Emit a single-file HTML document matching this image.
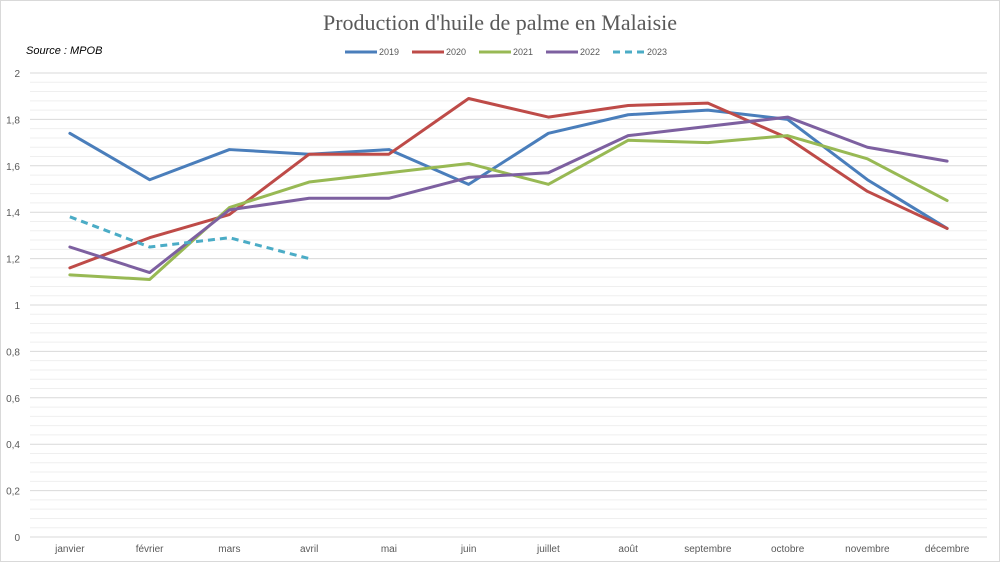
<!DOCTYPE html>
<html><head><meta charset="utf-8"><style>
body{margin:0;width:1000px;height:562px;background:#fff;overflow:hidden;font-family:"Liberation Sans",sans-serif}
</style></head><body>
<svg width="1000" height="562">
<rect x="0.5" y="0.5" width="999" height="561" fill="#fff" stroke="#d9d9d9"/>
<text x="500" y="30" text-anchor="middle" font-family="Liberation Serif,serif" font-size="22" fill="#595959">Production d'huile de palme en Malaisie</text>
<text x="26" y="54" font-size="11" font-style="italic" fill="#000">Source : MPOB</text>
<g id="grid"></g><g id="yt"></g><g id="xt"></g><g id="lines"></g><g id="legend"></g>
</svg>
<script>
const months=["janvier","février","mars","avril","mai","juin","juillet","août","septembre","octobre","novembre","décembre"];
const yTicks=["0","0,2","0,4","0,6","0,8","1","1,2","1,4","1,6","1,8","2"];
const s2019=[1.74,1.54,1.67,1.65,1.67,1.52,1.74,1.82,1.84,1.80,1.54,1.33];
const s2020=[1.16,1.29,1.39,1.65,1.65,1.89,1.81,1.86,1.87,1.72,1.49,1.33];
const s2021=[1.13,1.11,1.42,1.53,1.57,1.61,1.52,1.71,1.70,1.73,1.63,1.45];
const s2022=[1.25,1.14,1.41,1.46,1.46,1.55,1.57,1.73,1.77,1.81,1.68,1.62];
const s2023=[1.38,1.25,1.29,1.20];
const NS="http://www.w3.org/2000/svg";
const X0=30,X1=987,Y0=537,Y1=73;
const xs=i=>X0+(X1-X0)/months.length*(i+0.5);
const ys=v=>Y0-(Y0-Y1)*v/2;
function mk(t,a,p){const e=document.createElementNS(NS,t);for(const k in a)e.setAttribute(k,a[k]);p.appendChild(e);return e;}
const grid=document.getElementById('grid');
for(let k=0;k<=50;k++){const v=k*0.04;const major=k%5==0;
 const l=mk('line',{x1:X0,x2:X1,y1:ys(v),y2:ys(v),stroke:major?'#d9d9d9':'#efefef','stroke-width':1},grid);
 
 }
const yt=document.getElementById('yt');
yTicks.forEach((t,i)=>{const e=mk('text',{x:20,y:ys(i*0.2)+4,'text-anchor':'end','font-size':10,fill:'#595959'},yt);e.textContent=t;
 
 });
const xt=document.getElementById('xt');
months.forEach((m,i)=>{const e=mk('text',{x:xs(i),y:552,'text-anchor':'middle','font-size':10,fill:'#595959'},xt);e.textContent=m;
 
 });
const series=[["2019",s2019,"#4a7ebb",""],["2020",s2020,"#be4b48",""],["2021",s2021,"#98b954",""],["2022",s2022,"#7d60a0",""],["2023",s2023,"#4bacc6","7,5"]];
const lg=document.getElementById('legend');
const lx=[345,412,479,546,613];
series.forEach((s,j)=>{
 const p=mk('polyline',{points:s[1].map((v,i)=>xs(i)+','+ys(v)).join(' '),fill:'none',stroke:s[2],'stroke-width':3,'stroke-linejoin':'round','stroke-linecap':s[3]?'butt':'round','stroke-dasharray':s[3]||'none'},document.getElementById('lines'));
 
 
 const g=mk('g',{},lg);
 
 
 mk('line',{x1:lx[j],x2:lx[j]+32,y1:52,y2:52,stroke:s[2],'stroke-width':3,'stroke-dasharray':s[3]||'none'},g);
 const t=mk('text',{x:lx[j]+34,y:55,'font-size':9,fill:'#595959'},g);t.textContent=s[0];
});
</script>
</body></html>
